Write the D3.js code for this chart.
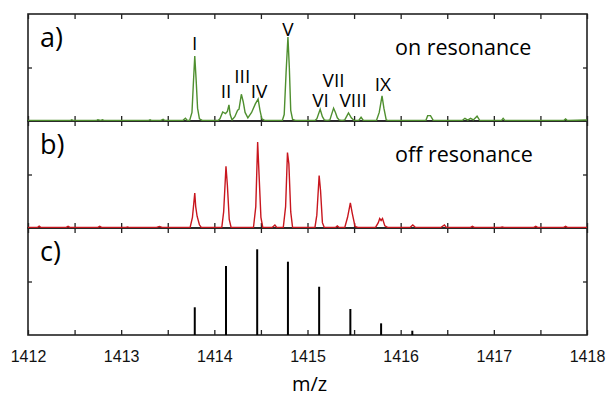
<!DOCTYPE html>
<html>
<head>
<meta charset="utf-8">
<script src="https://cdn.jsdelivr.net/npm/d3@7"></script>
<style>
  html, body { margin: 0; padding: 0; background: #fff; }
  svg { display: block; }
</style>
</head>
<body>
<svg id="chart" width="608" height="396"></svg>
<script>
// m/z range and tick labels
const mzDomain = [1412, 1418];
const tickValues = [1412, 1413, 1414, 1415, 1416, 1417, 1418];
const panelLetters = ['a)', 'b)', 'c)'];
const panelTitles = ['on resonance', 'off resonance', ''];

// a) on resonance spectrum, [m/z, intensity %]
const onResonance = [
  [1412.00, 0.4], [1412.45, 0.4], [1412.47, 1.2], [1412.49, 0.4], [1412.73, 0.4], [1412.75, 1.2],
  [1412.78, 0.6], [1412.80, 1.2], [1412.82, 0.4], [1413.29, 0.4], [1413.31, 1.2], [1413.33, 0.4],
  [1413.42, 0.4], [1413.45, 1.6], [1413.47, 0.4], [1413.66, 0.4], [1413.69, 2.6], [1413.71, 0.6],
  [1413.735, 0.6], [1413.76, 8], [1413.775, 35], [1413.79, 60.7], [1413.805, 38], [1413.82, 12],
  [1413.84, 2], [1413.87, 0.5], [1414.04, 0.4], [1414.06, 2], [1414.09, 8.5], [1414.12, 7],
  [1414.14, 9], [1414.157, 15], [1414.17, 6], [1414.19, 1], [1414.22, 4], [1414.25, 10],
  [1414.265, 11], [1414.29, 25], [1414.31, 18], [1414.33, 8], [1414.36, 3], [1414.40, 8],
  [1414.44, 16], [1414.47, 20.5], [1414.49, 10], [1414.51, 2], [1414.54, 0.5], [1414.73, 0.5],
  [1414.75, 6], [1414.77, 45], [1414.79, 78.5], [1414.805, 50], [1414.82, 10], [1414.84, 1.5],
  [1414.87, 0.5], [1415.08, 0.5], [1415.10, 2], [1415.136, 11], [1415.16, 4], [1415.18, 1],
  [1415.21, 0.5], [1415.24, 1], [1415.28, 12], [1415.30, 8], [1415.32, 3], [1415.34, 1],
  [1415.37, 0.5], [1415.40, 1], [1415.44, 7.5], [1415.47, 3], [1415.50, 0.5], [1415.55, 0.5],
  [1415.575, 3.5], [1415.60, 0.5], [1415.74, 0.5], [1415.77, 8], [1415.80, 23.4], [1415.82, 12],
  [1415.845, 1], [1415.87, 0.4], [1416.27, 0.4], [1416.29, 5], [1416.32, 5], [1416.35, 0.5],
  [1416.66, 0.4], [1416.69, 2.5], [1416.72, 0.8], [1416.75, 2.5], [1416.78, 1], [1416.82, 4.5],
  [1416.85, 0.4], [1417.08, 0.4], [1417.10, 2.5], [1417.12, 0.4], [1417.75, 0.4], [1417.77, 2],
  [1417.79, 0.4], [1418.00, 1]
];

// b) off resonance spectrum
const offResonance = [
  [1412.00, 0.5], [1412.10, 0.5], [1412.12, 1.8], [1412.14, 0.5], [1412.41, 0.5], [1412.43, 1.5],
  [1412.45, 0.5], [1412.75, 0.5], [1412.77, 1.5], [1412.79, 0.5], [1413.05, 0.5], [1413.07, 1],
  [1413.09, 0.4], [1413.38, 0.5], [1413.41, 1.5], [1413.44, 0.5], [1413.74, 0.5], [1413.765, 10],
  [1413.79, 32.7], [1413.80, 20], [1413.815, 11], [1413.84, 3], [1413.86, 0.5], [1414.08, 0.5],
  [1414.10, 15], [1414.125, 57.7], [1414.14, 40], [1414.16, 8], [1414.18, 0.5], [1414.42, 0.5],
  [1414.445, 20], [1414.465, 80.4], [1414.48, 50], [1414.50, 10], [1414.52, 0.5], [1414.62, 0.5],
  [1414.65, 2.8], [1414.67, 0.5], [1414.74, 0.5], [1414.765, 20], [1414.785, 70.5], [1414.80, 60],
  [1414.82, 15], [1414.84, 0.5], [1415.08, 0.5], [1415.10, 12], [1415.125, 49], [1415.14, 35],
  [1415.16, 5], [1415.18, 0.5], [1415.30, 0.5], [1415.32, 2], [1415.34, 0.5], [1415.40, 0.5],
  [1415.43, 10], [1415.46, 23.4], [1415.48, 14], [1415.51, 1.5], [1415.54, 0.5], [1415.73, 0.5],
  [1415.76, 5], [1415.775, 8.8], [1415.79, 7], [1415.805, 8.8], [1415.83, 2], [1415.86, 0.5],
  [1416.10, 0.5], [1416.13, 2.8], [1416.16, 0.5], [1416.43, 0.5], [1416.47, 2.8], [1416.49, 0.5],
  [1416.75, 0.5], [1416.77, 1.5], [1416.79, 0.5], [1417.07, 0.5], [1417.09, 1], [1417.11, 0.5],
  [1417.43, 0.5], [1417.45, 1.5], [1417.47, 0.5], [1417.75, 0.5], [1417.77, 1.5], [1417.79, 0.5],
  [1418.00, 0.5]
];

// c) calculated isotope pattern
const stickMz = [1413.79, 1414.125, 1414.46, 1414.79, 1415.125, 1415.46, 1415.79, 1416.125];
const stickIntensity = [25.9, 64.5, 80.1, 68.5, 45.1, 24.3, 10.9, 4.0];

// peak labels in panel a
const peakNames = ['I', 'II', 'III', 'IV', 'V', 'VI', 'VII', 'VIII', 'IX'];
const peakNameMz = [1413.79, 1414.125, 1414.30, 1414.48, 1414.79, 1415.14, 1415.28, 1415.49, 1415.81];
const peakNameLevel = [66.4, 21.5, 35.2, 21.2, 79, 13.4, 31.8, 13.4, 28];

const svg = d3.select('#chart');
const plotLeft = 28, plotRight = 587, plotTop = 14, panelH = 107;
const x = d3.scaleLinear().domain(mzDomain).range([plotLeft, plotRight]);
const frameColor = '#222';
const textColor = '#000';
const traceColors = ['#4f8f2f', '#c8161e', '#000'];

const panels = [0, 1, 2].map((i) => {
  const y0 = plotTop + i * panelH;
  return { i, y0, y: d3.scaleLinear().domain([0, 100]).range([y0 + panelH, y0]) };
});

const ticksHalf = d3.range(1412, 1418.01, 0.5);

const styleTicks = (s) => {
  s.select('.domain').remove();
  s.selectAll('line').attr('stroke', frameColor).attr('stroke-width', 1.3);
};

panels.forEach((p) => {
  const g = svg.append('g');
  g.append('clipPath').attr('id', `clip${p.i}`)
    .append('rect').attr('x', plotLeft).attr('y', p.y0).attr('width', plotRight - plotLeft).attr('height', panelH);

  // frame
  g.append('rect')
    .attr('x', plotLeft).attr('y', p.y0).attr('width', plotRight - plotLeft).attr('height', panelH)
    .attr('fill', 'none').attr('stroke', frameColor).attr('stroke-width', 1.6);

  // top and bottom ticks (inward)
  g.append('g').attr('transform', `translate(0,${p.y0})`)
    .call(d3.axisBottom(x).tickValues(ticksHalf).tickSize(5).tickFormat(''))
    .call(styleTicks);
  g.append('g').attr('transform', `translate(0,${p.y0 + panelH})`)
    .call(d3.axisTop(x).tickValues(ticksHalf).tickSize(5).tickFormat(''))
    .call(styleTicks);
  // y ticks
  g.append('g').attr('transform', `translate(${plotLeft},0)`)
    .call(d3.axisRight(p.y).tickValues([50]).tickSize(4).tickFormat(''))
    .call(styleTicks);
  g.append('g').attr('transform', `translate(${plotRight},0)`)
    .call(d3.axisLeft(p.y).tickValues([50]).tickSize(4).tickFormat(''))
    .call(styleTicks);

  // panel letter
  g.append('text').attr('x', 40).attr('y', p.y0 + 33)
    .attr('font-family', 'Open Sans').attr('font-size', 27).attr('fill', textColor)
    .text(panelLetters[p.i]);
  if (panelTitles[p.i]) {
    g.append('text').attr('x', 395).attr('y', p.y0 + 41)
      .attr('font-family', 'Open Sans').attr('font-size', 21.5).attr('fill', textColor)
      .text(panelTitles[p.i]);
  }
});

const line = (yScale) => d3.line().x((d) => x(d[0])).y((d) => yScale(d[1]));

svg.append('path').datum(onResonance)
  .attr('clip-path', 'url(#clip0)')
  .attr('d', line(panels[0].y))
  .attr('fill', 'none').attr('stroke', traceColors[0]).attr('stroke-width', 1.4);

svg.append('path').datum(offResonance)
  .attr('clip-path', 'url(#clip1)')
  .attr('d', line(panels[1].y))
  .attr('fill', 'none').attr('stroke', traceColors[1]).attr('stroke-width', 1.4);

svg.append('g').selectAll('line')
  .data(stickMz.map((m, k) => [m, stickIntensity[k]]))
  .join('line')
  .attr('x1', (d) => x(d[0])).attr('x2', (d) => x(d[0]))
  .attr('y1', panels[2].y(0)).attr('y2', (d) => panels[2].y(d[1]))
  .attr('stroke', traceColors[2]).attr('stroke-width', 2);

svg.append('g').selectAll('text')
  .data(peakNames.map((n, k) => [n, peakNameMz[k], peakNameLevel[k]]))
  .join('text')
  .attr('x', (d) => x(d[1])).attr('y', (d) => panels[0].y(d[2]))
  .attr('text-anchor', 'middle')
  .attr('font-family', 'Open Sans').attr('font-size', 19).attr('fill', textColor)
  .text((d) => d[0]);

// x tick labels under panel c
const plotBottom = plotTop + 3 * panelH;
svg.append('g').attr('transform', `translate(0,${plotBottom})`)
  .call(d3.axisBottom(x).tickValues(tickValues).tickSize(0).tickPadding(16).tickFormat(d3.format('d')))
  .call((s) => {
    s.select('.domain').remove();
    s.selectAll('text').attr('font-family', 'Liberation Sans, Arial').attr('font-size', 16).attr('fill', '#111');
  });

svg.append('text').attr('x', (plotLeft + plotRight) / 2 + 2).attr('y', 391)
  .attr('text-anchor', 'middle')
  .attr('font-family', 'Open Sans').attr('font-size', 20).attr('fill', textColor)
  .text('m/z');
</script>
</body>
</html>
